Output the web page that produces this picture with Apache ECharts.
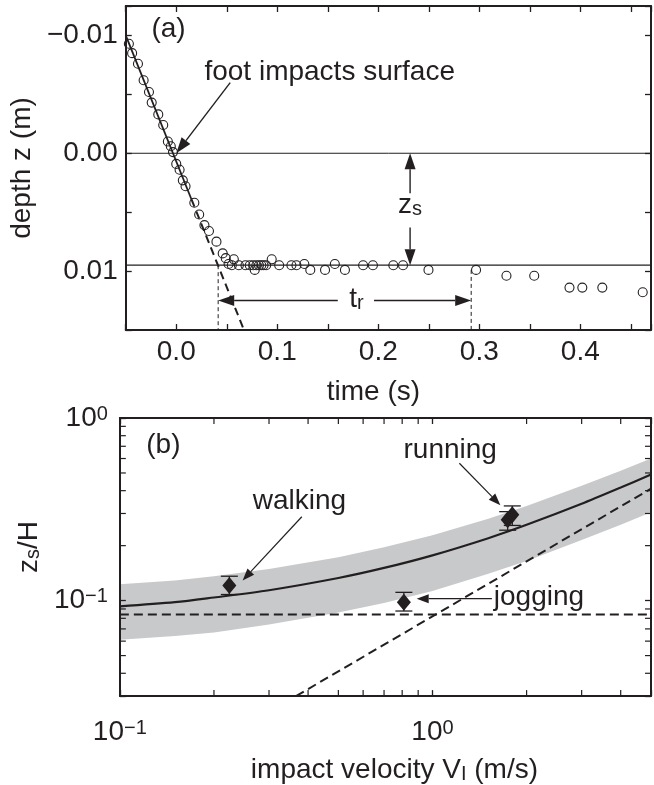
<!DOCTYPE html>
<html>
<head>
<meta charset="utf-8">
<title>foot impact</title>
<script src="https://cdn.jsdelivr.net/npm/echarts@6.0.0/dist/echarts.min.js"></script>
<style>
  html, body { margin: 0; background: #fff; }
  #chart { width: 654px; height: 785px; }
</style>
</head>
<body>
<div id="chart"></div>
<script>
var INK = '#231f20';
var GREY = '#c8c9cb';
var FONT = 'Liberation Sans';

// (a) depth of the foot against time
var timeA = [-0.0469, -0.0437, -0.0379, -0.0323, -0.0270, -0.0243, -0.0178, -0.0129, -0.0083, -0.0054,
  -0.0032, 0.0000, 0.0033, 0.0065, 0.0092, 0.0179, 0.0227, 0.0279, 0.0324, 0.0398,
  0.0460, 0.0490, 0.0518, 0.0570, 0.0550, 0.0620, 0.0685, 0.0728, 0.0761, 0.0777,
  0.0793, 0.0819, 0.0842, 0.0864, 0.0890, 0.0945, 0.1019, 0.1140, 0.1190, 0.1268,
  0.1327, 0.1473, 0.1570, 0.1670, 0.1850, 0.1947, 0.2149, 0.2245, 0.2497, 0.2968,
  0.3269, 0.3544, 0.3893, 0.4020, 0.4218, 0.4618];
var depthA = [-0.0093, -0.0085, -0.0076, -0.0062, -0.0052, -0.0043, -0.0033, -0.0024, -0.0010, -0.0006,
  -0.0001, 0.0009, 0.0014, 0.0023, 0.0028, 0.0042, 0.0052, 0.0061, 0.0066, 0.0075,
  0.0085, 0.0089, 0.0094, 0.0090, 0.0095, 0.0095, 0.0095, 0.0095, 0.0095, 0.0099,
  0.0095, 0.0095, 0.0095, 0.0095, 0.0095, 0.0090, 0.0095, 0.0095, 0.0095, 0.0094,
  0.0099, 0.0099, 0.0094, 0.0099, 0.0095, 0.0095, 0.0095, 0.0095, 0.0099, 0.0099,
  0.0104, 0.0104, 0.0114, 0.0114, 0.0114, 0.0118];
var fitSolid = [[-0.05, -0.0100], [0.015, 0.0039]];
var fitDashed = [[0.015, 0.0039], [0.068, 0.0152]];
var surfaceLine = [[-0.05, 0.0], [0.47, 0.0]];
var settleLine = [[-0.05, 0.0095], [0.47, 0.0095]];
var trLeft = [[0.0415, 0.0095], [0.0415, 0.015]];
var trRight = [[0.292, 0.0099], [0.292, 0.015]];
// arrows: [x from, y from, x tip, y tip]
var arrowsA = [
  [0.0534, -0.0060, 0.0, 0.0],
  [0.2315, 0.0034, 0.2315, 0.0],
  [0.2315, 0.0063, 0.2315, 0.0095],
  [0.1599, 0.01249, 0.0415, 0.01249],
  [0.1958, 0.01249, 0.292, 0.01249]
];
var notesA = [
  { text: '(a)', at: [-0.0076, -0.01054], align: 'center' },
  { text: 'foot impacts surface', at: [0.0279, -0.0069], align: 'left' },
  { text: '{m|z}{s|s}', at: [0.2315, 0.0044], align: 'center' },
  { text: '{m|t}{s|r}', at: [0.1785, 0.0124], align: 'center' }
];

// (b) zs/H against impact velocity
var fitV = [0.1, 0.15, 0.2, 0.3, 0.5, 0.7, 1, 1.5, 2, 3, 4, 5];
var fitZ = [0.093, 0.098, 0.104, 0.114, 0.133, 0.151, 0.177, 0.219, 0.260, 0.339, 0.416, 0.490];
var bandHi = [0.123, 0.129, 0.136, 0.149, 0.173, 0.196, 0.228, 0.280, 0.330, 0.425, 0.515, 0.600];
var bandLo = [0.061, 0.064, 0.067, 0.074, 0.086, 0.097, 0.113, 0.140, 0.165, 0.215, 0.260, 0.305];
var floorLine = [[0.1, 0.084], [5, 0.084]];
var slopeLine = [[0.366, 0.030], [5, 0.41]];
var gaitV = [0.224, 0.81, 1.74, 1.80];
var gaitZ = [0.121, 0.098, 0.277, 0.295];
var gaitLo = [0.108, 0.0877, 0.243, 0.258];
var gaitHi = [0.136, 0.111, 0.307, 0.330];
var arrowsB = [
  [0.382, 0.288, 0.247, 0.129],
  [1.219, 0.565, 1.649, 0.333],
  [1.549, 0.1025, 0.890, 0.1025]
];
var notesB = [
  { text: '(b)', at: [0.1378, 0.713], align: 'center' },
  { text: 'walking', at: [0.266, 0.352], align: 'left' },
  { text: 'running', at: [0.808, 0.663], align: 'left' },
  { text: 'jogging', at: [1.571, 0.1046], align: 'left' }
];
var minorV = [0.2, 0.3, 0.4, 0.5, 0.6, 0.7, 0.8, 0.9, 2, 3, 4];
var minorZ = [0.04, 0.05, 0.06, 0.07, 0.08, 0.09, 0.2, 0.3, 0.4, 0.5, 0.6, 0.7, 0.8, 0.9];

var vMin = 0.1, vMax = 5, zsMin = 0.03, zsMax = 1;

var subRich = {
  m: { fontSize: 28, fontFamily: FONT, color: INK, lineHeight: 28, verticalAlign: 'top' },
  s: { fontSize: 20, fontFamily: FONT, color: INK, lineHeight: 20, padding: [15, 0, 0, 0], verticalAlign: 'bottom' }
};
var powRich = {
  b: { fontSize: 28, fontFamily: FONT, color: INK, lineHeight: 28, verticalAlign: 'bottom' },
  s: { fontSize: 20, fontFamily: FONT, color: INK, lineHeight: 20, padding: [0, 0, 10, 0], verticalAlign: 'top' }
};

function timeLabel(v) {
  var k = Math.round(v / 0.1);
  if (Math.abs(v - k * 0.1) > 1e-9 || k < 0 || k > 4) return '';
  return (k * 0.1).toFixed(1);
}
function depthLabel(v) {
  var k = Math.round(v / 0.01);
  if (Math.abs(v - k * 0.01) > 1e-9 || Math.abs(k) > 1) return '';
  return (k < 0 ? '\u2212' : '') + Math.abs(k * 0.01).toFixed(2);
}
function powLabel(v) {
  var e = Math.log10(v), k = Math.round(e);
  if (Math.abs(e - k) > 1e-6) return '';
  return '{b|10}{s|' + (k < 0 ? '\u2212' + (-k) : k) + '}';
}

function arrowItem(headLen, headW, lw) {
  return function (params, api) {
    var p1 = api.coord([api.value(0), api.value(1)]);
    var p2 = api.coord([api.value(2), api.value(3)]);
    var dx = p2[0] - p1[0], dy = p2[1] - p1[1];
    var len = Math.sqrt(dx * dx + dy * dy);
    var ux = dx / len, uy = dy / len;
    var bx = p2[0] - ux * headLen, by = p2[1] - uy * headLen;
    return {
      type: 'group',
      children: [
        { type: 'line', shape: { x1: p1[0], y1: p1[1], x2: bx, y2: by }, style: { stroke: INK, lineWidth: lw } },
        { type: 'polygon', shape: { points: [[p2[0], p2[1]], [bx - uy * headW / 2, by + ux * headW / 2], [bx + uy * headW / 2, by - ux * headW / 2]] }, style: { fill: INK } }
      ]
    };
  };
}

function bandItem(params, api) {
  if (params.dataIndex !== 0) return null;
  var pts = [];
  for (var i = 0; i < fitV.length; i++) pts.push(api.coord([fitV[i], bandHi[i]]));
  for (var j = fitV.length - 1; j >= 0; j--) pts.push(api.coord([fitV[j], bandLo[j]]));
  return { type: 'polygon', shape: { points: pts }, style: { fill: GREY } };
}

function errItem(params, api) {
  var v = api.value(0);
  var lo = api.coord([v, api.value(1)]);
  var hi = api.coord([v, api.value(2)]);
  var w = 8.5;
  var st = { stroke: INK, lineWidth: 1.3 };
  return {
    type: 'group',
    children: [
      { type: 'line', shape: { x1: lo[0], y1: lo[1], x2: hi[0], y2: hi[1] }, style: st },
      { type: 'line', shape: { x1: lo[0] - w, y1: lo[1], x2: lo[0] + w, y2: lo[1] }, style: st },
      { type: 'line', shape: { x1: hi[0] - w, y1: hi[1], x2: hi[0] + w, y2: hi[1] }, style: st }
    ]
  };
}

function minorTickX(params, api) {
  var v = api.value(0);
  var b = api.coord([v, zsMin]), t = api.coord([v, zsMax]);
  return {
    type: 'group',
    children: [
      { type: 'line', shape: { x1: b[0], y1: b[1], x2: b[0], y2: b[1] - 6 }, style: { stroke: INK, lineWidth: 1.2 } },
      { type: 'line', shape: { x1: t[0], y1: t[1], x2: t[0], y2: t[1] + 6 }, style: { stroke: INK, lineWidth: 1.2 } }
    ]
  };
}
function minorTickY(params, api) {
  var z = api.value(1);
  var l = api.coord([vMin, z]), r = api.coord([vMax, z]);
  return {
    type: 'group',
    children: [
      { type: 'line', shape: { x1: l[0], y1: l[1], x2: l[0] + 6, y2: l[1] }, style: { stroke: INK, lineWidth: 1.2 } },
      { type: 'line', shape: { x1: r[0], y1: r[1], x2: r[0] - 6, y2: r[1] }, style: { stroke: INK, lineWidth: 1.2 } }
    ]
  };
}

function zip(xs, ys) {
  return xs.map(function (x, i) { return [x, ys[i]]; });
}

var axisLine = { onZero: false, lineStyle: { color: INK, width: 2 } };
var axisTick = { inside: true, length: 6, lineStyle: { color: INK, width: 1.3 } };
var labelStyle = { fontSize: 28, fontFamily: FONT, color: INK };

var chart = echarts.init(document.getElementById('chart'));

var option = {
  animation: false,
  backgroundColor: '#fff',
  textStyle: { fontFamily: FONT },
  grid: [
    { left: 116, top: 6, width: 536, height: 324 },
    { left: 115, top: 418, width: 538, height: 288 }
  ],
  xAxis: [
    {
      gridIndex: 0, type: 'value', min: -0.05, max: 0.47, interval: 0.05, z: 10,
      axisLine: axisLine, axisTick: axisTick, splitLine: { show: false },
      axisLabel: Object.assign({ margin: 8, formatter: timeLabel }, labelStyle),
      name: 'time (s)', nameLocation: 'middle', nameGap: 48,
      nameTextStyle: Object.assign({ padding: [0, 30, 0, 0] }, labelStyle)
    },
    {
      gridIndex: 0, type: 'value', position: 'top', min: -0.05, max: 0.47, interval: 0.05, z: 10,
      axisLine: axisLine, axisTick: axisTick, splitLine: { show: false }, axisLabel: { show: false }
    },
    {
      gridIndex: 1, type: 'log', logBase: 10, min: vMin, max: vMax, z: 10,
      axisLine: axisLine, axisTick: axisTick, splitLine: { show: false }, minorTick: { show: false },
      axisLabel: { margin: 22, formatter: powLabel, rich: powRich },
      name: '{n|impact velocity V}{sub|I}{n| (m/s)}', nameLocation: 'middle', nameGap: 44,
      nameTextStyle: { padding: [0, 0, 0, 18], rich: { n: subRich.m, sub: subRich.s } }
    },
    {
      gridIndex: 1, type: 'log', logBase: 10, position: 'top', min: vMin, max: vMax, z: 10,
      axisLine: axisLine, axisTick: axisTick, splitLine: { show: false }, axisLabel: { show: false }
    }
  ],
  yAxis: [
    {
      gridIndex: 0, type: 'value', inverse: true, min: -0.0125, max: 0.015, splitNumber: 5, z: 10,
      axisLine: axisLine, axisTick: axisTick, splitLine: { show: false },
      axisLabel: Object.assign({ margin: 8, formatter: depthLabel }, labelStyle),
      name: 'depth z (m)', nameLocation: 'middle', nameGap: 78,
      nameTextStyle: labelStyle
    },
    {
      gridIndex: 0, type: 'value', position: 'right', inverse: true, min: -0.0125, max: 0.015, splitNumber: 5, z: 10,
      axisLine: axisLine, axisTick: axisTick, splitLine: { show: false }, axisLabel: { show: false }
    },
    {
      gridIndex: 1, type: 'log', logBase: 10, min: zsMin, max: zsMax, z: 10,
      axisLine: axisLine, axisTick: axisTick, splitLine: { show: false }, minorTick: { show: false },
      axisLabel: { margin: 12, formatter: powLabel, rich: powRich },
      name: '{n|z}{sub|s}{n|/H}', nameLocation: 'middle', nameGap: 58,
      nameTextStyle: { padding: [0, 0, 0, 20], rich: { n: subRich.m, sub: subRich.s } }
    },
    {
      gridIndex: 1, type: 'log', logBase: 10, position: 'right', min: zsMin, max: zsMax, z: 10,
      axisLine: axisLine, axisTick: axisTick, splitLine: { show: false }, axisLabel: { show: false }
    }
  ],
  series: [
    // panel (a)
    { type: 'line', xAxisIndex: 0, yAxisIndex: 0, data: surfaceLine, symbol: 'none', silent: true, lineStyle: { color: INK, width: 1 } },
    { type: 'line', xAxisIndex: 0, yAxisIndex: 0, data: settleLine, symbol: 'none', silent: true, lineStyle: { color: INK, width: 1.2 } },
    { type: 'line', xAxisIndex: 0, yAxisIndex: 0, data: trLeft, symbol: 'none', silent: true, lineStyle: { color: INK, width: 1, type: [4, 3] } },
    { type: 'line', xAxisIndex: 0, yAxisIndex: 0, data: trRight, symbol: 'none', silent: true, lineStyle: { color: INK, width: 1, type: [4, 3] } },
    { type: 'line', xAxisIndex: 0, yAxisIndex: 0, data: fitSolid, symbol: 'none', silent: true, lineStyle: { color: INK, width: 1.8 } },
    { type: 'line', xAxisIndex: 0, yAxisIndex: 0, data: fitDashed, symbol: 'none', silent: true, lineStyle: { color: INK, width: 2, type: [8, 5] } },
    {
      type: 'scatter', xAxisIndex: 0, yAxisIndex: 0, data: zip(timeA, depthA), symbol: 'circle', symbolSize: 9, silent: true,
      itemStyle: { color: 'rgba(0,0,0,0)', borderColor: INK, borderWidth: 1.1, opacity: 1 }, z: 4
    },
    {
      type: 'custom', xAxisIndex: 0, yAxisIndex: 0, data: arrowsA, encode: { x: [0, 2], y: [1, 3] },
      renderItem: arrowItem(16, 11, 1.4), silent: true, z: 5
    },
    // panel (b)
    {
      type: 'custom', xAxisIndex: 2, yAxisIndex: 2, data: fitV.map(function (v, i) { return [v, bandLo[i], bandHi[i]]; }),
      encode: { x: 0, y: [1, 2] }, renderItem: bandItem, silent: true, z: 1
    },
    { type: 'line', xAxisIndex: 2, yAxisIndex: 2, data: zip(fitV, fitZ), symbol: 'none', smooth: 0.3, silent: true, lineStyle: { color: INK, width: 2.2 }, z: 2 },
    { type: 'line', xAxisIndex: 2, yAxisIndex: 2, data: floorLine, symbol: 'none', silent: true, lineStyle: { color: INK, width: 2, type: [9, 5] }, z: 2 },
    { type: 'line', xAxisIndex: 2, yAxisIndex: 2, data: slopeLine, symbol: 'none', silent: true, lineStyle: { color: INK, width: 2, type: [9, 5] }, z: 2 },
    {
      type: 'custom', xAxisIndex: 2, yAxisIndex: 2, data: gaitV.map(function (v, i) { return [v, gaitLo[i], gaitHi[i]]; }),
      encode: { x: 0, y: [1, 2] }, renderItem: errItem, silent: true, z: 3
    },
    {
      type: 'scatter', xAxisIndex: 2, yAxisIndex: 2, data: zip(gaitV, gaitZ), symbol: 'diamond', symbolSize: [14, 17], silent: true,
      itemStyle: { color: INK, opacity: 1 }, z: 4
    },
    {
      type: 'custom', xAxisIndex: 2, yAxisIndex: 2, data: arrowsB, encode: { x: [0, 2], y: [1, 3] },
      renderItem: arrowItem(12, 9, 1.2), silent: true, z: 5
    },
    {
      type: 'custom', xAxisIndex: 2, yAxisIndex: 2, data: minorV.map(function (v) { return [v, zsMin]; }),
      encode: { x: 0, y: 1 }, renderItem: minorTickX, silent: true, z: 6
    },
    {
      type: 'custom', xAxisIndex: 2, yAxisIndex: 2, data: minorZ.map(function (z) { return [vMin, z]; }),
      encode: { x: 0, y: 1 }, renderItem: minorTickY, silent: true, z: 6
    }
  ]
};

chart.setOption(option);

function noteGraphic(note, finder) {
  var p = chart.convertToPixel(finder, note.at);
  return {
    type: 'text', x: p[0], y: p[1], z: 50, silent: true,
    style: {
      text: note.text, fill: INK, font: '28px "' + FONT + '"',
      align: note.align, textAlign: note.align, verticalAlign: 'middle', textVerticalAlign: 'middle',
      rich: subRich
    }
  };
}

var graphics = notesA.map(function (n) { return noteGraphic(n, { xAxisIndex: 0, yAxisIndex: 0 }); })
  .concat(notesB.map(function (n) { return noteGraphic(n, { xAxisIndex: 2, yAxisIndex: 2 }); }));
chart.setOption({ graphic: graphics });
</script>
</body>
</html>
